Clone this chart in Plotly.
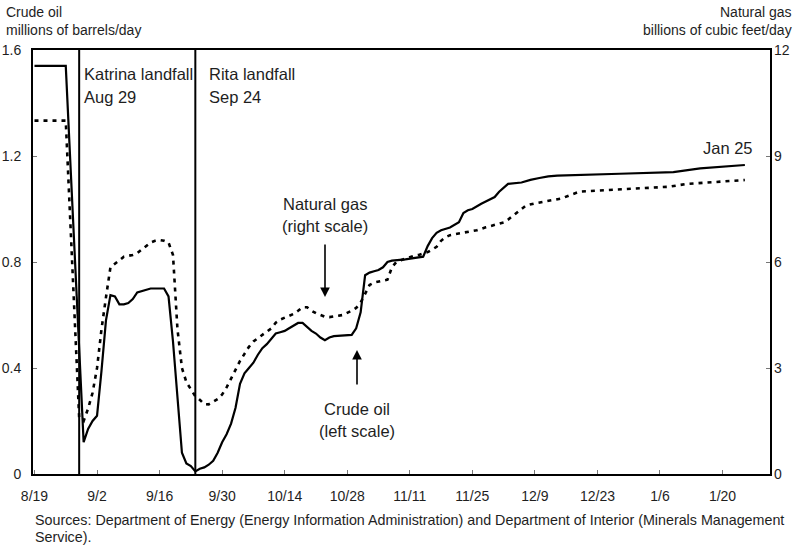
import plotly.graph_objects as go

# ---------------- data ----------------
oil_dates = ["2005-08-19", "2005-08-26", "2005-08-30", "2005-08-31", "2005-09-01", "2005-09-02",
             "2005-09-03", "2005-09-04", "2005-09-05", "2005-09-06", "2005-09-07", "2005-09-08",
             "2005-09-09", "2005-09-10", "2005-09-11", "2005-09-12", "2005-09-13", "2005-09-14",
             "2005-09-17", "2005-09-18", "2005-09-19", "2005-09-20", "2005-09-21", "2005-09-22",
             "2005-09-23", "2005-09-24", "2005-09-25", "2005-09-26", "2005-09-27", "2005-09-28",
             "2005-09-29", "2005-09-30", "2005-10-01", "2005-10-02", "2005-10-03", "2005-10-04",
             "2005-10-05", "2005-10-06", "2005-10-07", "2005-10-08", "2005-10-09", "2005-10-10",
             "2005-10-11", "2005-10-12", "2005-10-13", "2005-10-14", "2005-10-15", "2005-10-16",
             "2005-10-17", "2005-10-18", "2005-10-19", "2005-10-20", "2005-10-21", "2005-10-22",
             "2005-10-23", "2005-10-24", "2005-10-25", "2005-10-27", "2005-10-29", "2005-10-30",
             "2005-10-31", "2005-11-01", "2005-11-02", "2005-11-03", "2005-11-04", "2005-11-05",
             "2005-11-06", "2005-11-07", "2005-11-10", "2005-11-14", "2005-11-15", "2005-11-16",
             "2005-11-17", "2005-11-18", "2005-11-20", "2005-11-22", "2005-11-23", "2005-11-24",
             "2005-11-25", "2005-11-27", "2005-11-29", "2005-11-30", "2005-12-01", "2005-12-02",
             "2005-12-03", "2005-12-06", "2005-12-08", "2005-12-10", "2005-12-12", "2005-12-14",
             "2005-12-20", "2005-12-28", "2006-01-09", "2006-01-15", "2006-01-25"]
oil_values = [1.54, 1.54, 0.12, 0.17, 0.20, 0.22,
              0.39, 0.58, 0.675, 0.67, 0.64, 0.64,
              0.645, 0.66, 0.685, 0.69, 0.695, 0.70,
              0.70, 0.67, 0.50, 0.30, 0.08, 0.04,
              0.03, 0.01, 0.02, 0.025, 0.035, 0.05,
              0.08, 0.12, 0.15, 0.19, 0.25, 0.34,
              0.38, 0.40, 0.42, 0.45, 0.475, 0.49,
              0.51, 0.53, 0.535, 0.54, 0.55, 0.56,
              0.57, 0.57, 0.555, 0.54, 0.53, 0.515,
              0.505, 0.515, 0.52, 0.522, 0.525, 0.55,
              0.61, 0.75, 0.76, 0.765, 0.77, 0.78,
              0.80, 0.805, 0.81, 0.82, 0.86, 0.89,
              0.91, 0.92, 0.93, 0.95, 0.985, 0.995,
              1.00, 1.02, 1.035, 1.045, 1.065, 1.08,
              1.095, 1.10, 1.11, 1.117, 1.123, 1.126,
              1.128, 1.133, 1.139, 1.153, 1.166]

gas_dates = ["2005-08-19", "2005-08-26", "2005-08-29", "2005-08-30", "2005-08-31", "2005-09-01",
             "2005-09-02", "2005-09-03", "2005-09-04", "2005-09-05", "2005-09-06", "2005-09-07",
             "2005-09-08", "2005-09-10", "2005-09-11", "2005-09-12", "2005-09-13", "2005-09-14",
             "2005-09-15", "2005-09-16", "2005-09-17", "2005-09-18", "2005-09-19", "2005-09-20",
             "2005-09-21", "2005-09-22", "2005-09-23", "2005-09-24", "2005-09-25", "2005-09-26",
             "2005-09-27", "2005-09-28", "2005-09-29", "2005-09-30", "2005-10-01", "2005-10-02",
             "2005-10-03", "2005-10-04", "2005-10-05", "2005-10-06", "2005-10-07", "2005-10-08",
             "2005-10-09", "2005-10-10", "2005-10-11", "2005-10-12", "2005-10-13", "2005-10-14",
             "2005-10-15", "2005-10-16", "2005-10-17", "2005-10-18", "2005-10-19", "2005-10-20",
             "2005-10-21", "2005-10-22", "2005-10-23", "2005-10-24", "2005-10-25", "2005-10-26",
             "2005-10-27", "2005-10-28", "2005-10-29", "2005-10-30", "2005-10-31", "2005-11-01",
             "2005-11-02", "2005-11-03", "2005-11-04", "2005-11-05", "2005-11-06", "2005-11-07",
             "2005-11-08", "2005-11-09", "2005-11-10", "2005-11-11", "2005-11-12", "2005-11-13",
             "2005-11-14", "2005-11-15", "2005-11-16", "2005-11-17", "2005-11-18", "2005-11-19",
             "2005-11-20", "2005-11-22", "2005-11-24", "2005-11-26", "2005-11-28", "2005-11-30",
             "2005-12-02", "2005-12-03", "2005-12-04", "2005-12-05", "2005-12-06", "2005-12-07",
             "2005-12-09", "2005-12-12", "2005-12-15", "2005-12-17", "2005-12-19", "2005-12-23",
             "2005-12-28", "2006-01-03", "2006-01-08", "2006-01-12", "2006-01-18", "2006-01-25"]
gas_values = [10.0, 10.0, 1.6, 1.5, 1.85, 2.3,
              3.0, 4.1, 5.0, 5.85, 5.95, 6.05,
              6.15, 6.2, 6.25, 6.35, 6.45, 6.55,
              6.6, 6.62, 6.6, 6.55, 6.2, 4.1,
              3.0, 2.6, 2.4, 2.2, 2.1, 1.98,
              1.97, 2.05, 2.12, 2.25, 2.45, 2.7,
              2.95, 3.2, 3.4, 3.6, 3.75, 3.85,
              3.95, 4.03, 4.12, 4.28, 4.37, 4.42,
              4.48, 4.53, 4.62, 4.72, 4.72, 4.62,
              4.55, 4.5, 4.45, 4.44, 4.45, 4.48,
              4.5, 4.55, 4.62, 4.7, 4.85, 5.1,
              5.35, 5.42, 5.45, 5.48, 5.5, 5.85,
              6.0, 6.05, 6.1, 6.15, 6.18, 6.2,
              6.23, 6.28, 6.35, 6.43, 6.6, 6.7,
              6.76, 6.8, 6.84, 6.9, 6.98, 7.04,
              7.12, 7.2, 7.3, 7.42, 7.52, 7.6,
              7.66, 7.72, 7.8, 7.9, 7.99, 8.02,
              8.05, 8.08, 8.13, 8.21, 8.26, 8.32]

x_tick_vals = ["2005-08-19", "2005-09-02", "2005-09-16", "2005-09-30", "2005-10-14", "2005-10-28",
               "2005-11-11", "2005-11-25", "2005-12-09", "2005-12-23", "2006-01-06", "2006-01-20"]
x_tick_text = ["8/19", "9/2", "9/16", "9/30", "10/14", "10/28",
               "11/11", "11/25", "12/9", "12/23", "1/6", "1/20"]
oil_ticks = [0, 0.4, 0.8, 1.2, 1.6]
oil_tick_text = ["0", "0.4", "0.8", "1.2", "1.6"]
gas_ticks = [0, 3, 6, 9, 12]

katrina_date = "2005-08-29"
rita_date = "2005-09-24"

# ---------------- layout helpers ----------------
W, H = 799, 549
L, R, T, B = 33, 29, 50, 75
PW, PH = W - L - R, H - T - B


def px(x):
    return (x - L) / PW


def py(y):
    return (H - B - y) / PH


FONT = "Liberation Sans, Arial, sans-serif"
TXT = "#1e1e1e"

fig = go.Figure()
fig.add_trace(go.Scatter(x=gas_dates, y=gas_values, yaxis="y2", mode="lines",
                         line=dict(color="black", width=2.6, dash="4px,5px"),
                         name="Natural gas"))
fig.add_trace(go.Scatter(x=oil_dates, y=oil_values, mode="lines",
                         line=dict(color="black", width=2.2), name="Crude oil"))

for d in (katrina_date, rita_date):
    fig.add_shape(type="line", xref="x", yref="paper", x0=d, x1=d, y0=0, y1=1,
                  line=dict(color="black", width=2))

ann = []


def text(x, y, s, xanchor="left", size=16.5, xref="paper", yref="paper", xshift=0):
    ann.append(dict(x=x, y=y, xref=xref, yref=yref, text=s, showarrow=False, xshift=xshift,
                    xanchor=xanchor, yanchor="middle", font=dict(size=size, color=TXT, family=FONT)))


text(katrina_date, py(74), "Katrina landfall", xref="x", xshift=3)
text(katrina_date, py(97), "Aug 29", xref="x", xshift=3)
text(rita_date, py(74), "Rita landfall", xref="x", xshift=12)
text(rita_date, py(97), "Sep 24", xref="x", xshift=12)
text(px(325), py(204), "Natural gas", xanchor="center")
text(px(325), py(226), "(right scale)", xanchor="center")
text(px(357), py(409), "Crude oil", xanchor="center")
text(px(357), py(431), "(left scale)", xanchor="center")
text(px(728), py(148), "Jan 25", xanchor="center")
text(px(4), py(12), "Crude oil", size=14)
text(px(4), py(30), "millions of barrels/day", size=14)
text(px(794), py(12), "Natural gas", xanchor="right", size=14)
text(px(794), py(30), "billions of cubic feet/day", xanchor="right", size=14)
text(px(33), py(520), "Sources: Department of Energy (Energy Information Administration) and Department of Interior (Minerals Management", size=14.3)
text(px(33), py(537), "Service).", size=14.3)

# arrows
ann.append(dict(x=px(325), y=py(297), xref="paper", yref="paper", ax=0, ay=-54,
                showarrow=True, arrowhead=2, arrowsize=1.2, arrowwidth=1.6, arrowcolor="black", text=""))
ann.append(dict(x=px(357), y=py(350), xref="paper", yref="paper", ax=0, ay=36,
                showarrow=True, arrowhead=2, arrowsize=1.2, arrowwidth=1.6, arrowcolor="black", text=""))

fig.update_layout(
    width=W, height=H,
    margin=dict(l=L, r=R, t=T, b=B),
    paper_bgcolor="white", plot_bgcolor="white",
    showlegend=False,
    font=dict(family=FONT, color=TXT, size=14),
    annotations=ann,
    xaxis=dict(type="date", range=["2005-08-18 16:00", "2006-01-30 15:00"],
               tickvals=x_tick_vals, ticktext=x_tick_text, automargin=False,
               ticks="inside", ticklen=4, tickcolor="#777", tickwidth=1, ticklabelstandoff=8,
               showline=True, linecolor="black", linewidth=2, mirror=True,
               showgrid=False, zeroline=False, tickfont=dict(size=14)),
    yaxis=dict(range=[0, 1.6], tickvals=oil_ticks, ticktext=oil_tick_text, automargin=False,
               ticks="inside", ticklen=4, tickcolor="#777", ticklabelstandoff=7,
               showline=True, linecolor="black", linewidth=2, mirror=True,
               showgrid=False, zeroline=False, tickfont=dict(size=14)),
    yaxis2=dict(range=[0, 12], tickvals=gas_ticks, overlaying="y", side="right", automargin=False,
                ticks="inside", ticklen=4, tickcolor="#777", ticklabelstandoff=3,
                showline=False, showgrid=False, zeroline=False, tickfont=dict(size=14)),
)

fig.write_html("out.html", config={"displayModeBar": False},
               post_script="document.body.style.margin='0px';document.body.style.padding='0px';"
                           "document.body.style.overflow='hidden';")
